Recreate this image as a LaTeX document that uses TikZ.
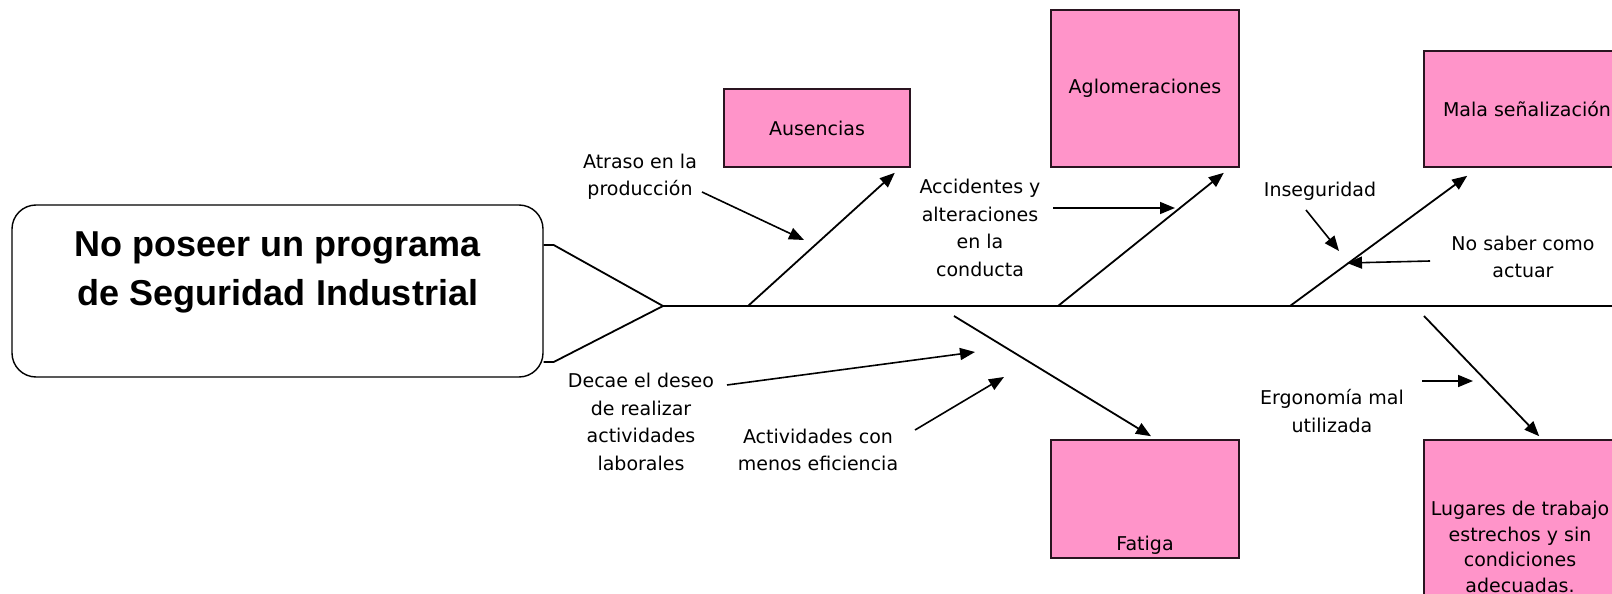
\documentclass[tikz,border=0pt]{standalone}
\usepackage{fontspec}
\setmainfont{DejaVu Sans}
\newfontfamily\headfont{Liberation Sans}
\usetikzlibrary{arrows.meta}

\definecolor{causepink}{HTML}{FF94C9}
\definecolor{boxedge}{HTML}{2A1420}

\tikzset{
  headbox/.style={draw, line width=1.4pt, rounded corners=24pt, inner sep=0pt},
  headtext/.style={align=center, font=\headfont\bfseries\fontsize{36}{49}\selectfont},
  cause/.style={draw=boxedge, fill=causepink, line width=1.6pt, inner sep=0pt, align=center,
    font=\fontsize{19}{27.5}\selectfont},
  note/.style={align=center, font=\fontsize{19}{27.5}\selectfont},
  spine/.style={line width=1.8pt},
  bone/.style={line width=1.8pt, -{Triangle[length=15pt,width=12pt]}},
  hint/.style={line width=1.6pt, -{Triangle[length=15pt,width=12pt]}}
}

\begin{document}
\begin{tikzpicture}[x=1pt, y=-1pt]
\useasboundingbox (0,0) rectangle (1612,594);
\clip (0,0) rectangle (1612,594);

% effect (head of the fish)
\node[headbox, minimum width=531pt, minimum height=172pt] (problem) at (277.5,291) {};
\node[headtext] (problemtxt) at (278,272) {No poseer un programa\\de Seguridad Industrial};

% causes
\node[cause, minimum width=186pt, minimum height=78pt] (ausencias) at (817,128) {Ausencias};
\node[cause, minimum width=188pt, minimum height=157pt] (aglomeraciones) at (1145,88.5) {Aglomeraciones};
\node[cause, minimum width=206pt, minimum height=116pt] (senal) at (1527,109) {Mala señalización};
\node[cause, minimum width=188pt, minimum height=118pt] (fatiga) at (1145,499) {};
\node[note, above=1pt] (fatigatxt) at (fatiga.south) {Fatiga};
\node[cause, minimum width=196pt, minimum height=224pt] (lugares) at (1522,552) {};
\node[note, font=\fontsize{19}{25.5}\selectfont] (lugarestxt) at (1520,547)
  {Lugares de trabajo\\estrechos y sin\\condiciones\\adecuadas.};

% sub-causes
\node[note] (atraso) at (640,177) {Atraso en la\\producción};
\node[note] (accidentes) at (980,228) {Accidentes y\\alteraciones\\en la\\conducta};
\node[note] (inseguridad) at (1320,191) {Inseguridad};
\node[note] (nosaber) at (1523,257) {No saber como\\actuar};
\node[note] (decae) at (641,422) {Decae el deseo\\de realizar\\actividades\\laborales};
\node[note] (actividades) at (818,450) {Actividades con\\menos eficiencia};
\node[note] (ergonomia) at (1332,411) {Ergonomía mal\\utilizada};

% fork and spine
\coordinate (head) at (663,306);
\coordinate (tail) at (1612,306);
\coordinate (forkup) at (0,245);
\coordinate (forkdown) at (0,362);
\draw[spine] (problem.east |- forkup) -- ++(10,0) -- (head);
\draw[spine] (problem.east |- forkdown) -- ++(10,0) -- (head);
\draw[spine] (head) -- (tail);

% bones
\coordinate (b1) at (748,306);
\coordinate (b2) at (1058,306);
\coordinate (b3) at (1290,306);
\coordinate (b4) at (954,316);
\coordinate (b5) at (1424,316);
\draw[bone] (b1) -- ([xshift=-16pt,yshift=-5pt]ausencias.south east);
\draw[bone] (b2) -- ([xshift=-16pt,yshift=-5pt]aglomeraciones.south east);
\draw[bone] (b3) -- ([xshift=44pt,yshift=-8pt]senal.south west);
\draw[bone] (b4) -- ([xshift=6pt,yshift=3pt]fatiga.north);
\draw[bone] (b5) -- ([xshift=116pt,yshift=3pt]lugares.north west);

% arrows from the sub-causes
\coordinate (atrasoend) at (702,192);
\coordinate (atrasotip) at (804,240);
\coordinate (accend) at (1053,208);
\coordinate (acctip) at (1175,208);
\coordinate (insend) at (1306,210);
\coordinate (instip) at (1339,251);
\coordinate (saberend) at (1430,261);
\coordinate (sabertip) at (1347,263);
\coordinate (decaeend) at (727,385);
\coordinate (decaetip) at (975,352);
\coordinate (actend) at (915,430);
\coordinate (acttip) at (1004,377);
\coordinate (ergoend) at (1422,381);
\coordinate (ergotip) at (1473,381);
\draw[hint] (atrasoend) -- (atrasotip);
\draw[hint] (accend) -- (acctip);
\draw[hint] (insend) -- (instip);
\draw[hint] (saberend) -- (sabertip);
\draw[hint] (decaeend) -- (decaetip);
\draw[hint] (actend) -- (acttip);
\draw[hint] (ergoend) -- (ergotip);

\end{tikzpicture}
\end{document}
